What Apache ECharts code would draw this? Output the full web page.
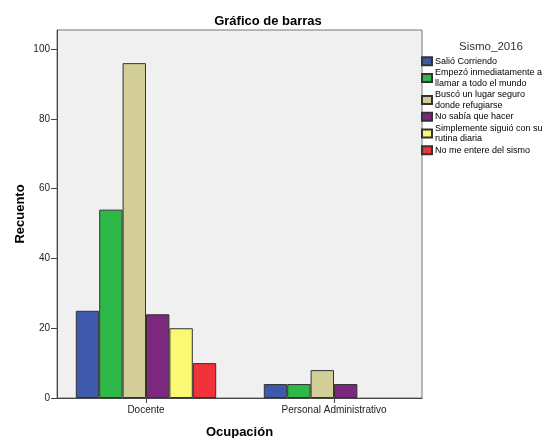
<!DOCTYPE html>
<html>
<head>
<meta charset="utf-8">
<script src="https://cdn.jsdelivr.net/npm/echarts@6/dist/echarts.min.js"></script>
<style>
html,body{margin:0;padding:0;background:#fff;}
#c{width:549px;height:438px;}
</style>
</head>
<body>
<div id="c"></div>
<script>
const categories = ['Docente', 'Personal Administrativo'];
const seriesNames = ['Salió Corriendo', 'Empezó inmediatamente a llamar a todo el mundo', 'Buscó un lugar seguro donde refugiarse', 'No sabía que hacer', 'Simplemente siguió con su rutina diaria', 'No me entere del sismo'];
const legendLabels = ['Salió Corriendo', 'Empezó inmediatamente a\nllamar a todo el mundo', 'Buscó un lugar seguro\ndonde refugiarse', 'No sabía que hacer', 'Simplemente siguió con su\nrutina diaria', 'No me entere del sismo'];
const salioCorriendo = [25, 4];
const empezoLlamar = [54, 4];
const buscoLugar = [96, 8];
const noSabia = [24, 4];
const siguioRutina = [20, null];
const noSeEntero = [10, null];
const yTicks = [0, 20, 40, 60, 80, 100];
const colors = ['#3E58AC', '#2EB848', '#D3CE97', '#7C287D', '#FBF873', '#EF3338'];

const values = [salioCorriendo, empezoLlamar, buscoLugar, noSabia, siguioRutina, noSeEntero];
const font = 'Liberation Sans, Arial, sans-serif';
const chart = echarts.init(document.getElementById('c'));
const YMAX = 105.5;

chart.setOption({
  animation: false,
  color: colors,
  title: [
    {text: 'Gráfico de barras', left: 263, top: 10, textAlign: 'center',
     textStyle: {fontFamily: font, fontSize: 13, fontWeight: 'bold', color: '#000'}},
    {text: 'Sismo_2016', left: 486, top: 36, textAlign: 'center',
     textStyle: {fontFamily: font, fontSize: 11.5, fontWeight: 'normal', color: '#333'}}
  ],
  legend: {
    orient: 'vertical', left: 421, top: 56, padding: 0,
    itemWidth: 10, itemHeight: 8, itemGap: 1,
    icon: 'rect',
    data: seriesNames,
    formatter: function (n) { return legendLabels[seriesNames.indexOf(n)]; },
    textStyle: {fontFamily: font, fontSize: 9, lineHeight: 10.5, color: '#000', padding: [0, 0, 0, -2]}
  },
  grid: [
    {left: 57, top: 30, width: 365, height: 368, show: true, backgroundColor: '#f0f0f0', borderColor: '#777', borderWidth: 1, outerBoundsMode: 'none', containLabel: false},
    {left: 52, top: 30, width: 376, height: 368, outerBoundsMode: 'none', containLabel: false}
  ],
  xAxis: [
    {gridIndex: 0, type: 'category', data: categories,
     axisLine: {show: true, lineStyle: {color: '#444', width: 1}},
     axisTick: {show: false}, axisLabel: {show: false},
     name: 'Ocupación', nameLocation: 'middle', nameGap: 28,
     nameTextStyle: {fontFamily: font, fontSize: 13, fontWeight: 'bold', color: '#000'}},
    {gridIndex: 1, type: 'category', data: categories,
     axisLine: {show: false},
     axisTick: {show: true, alignWithLabel: true, interval: 0, length: 5, lineStyle: {color: '#444'}},
     axisLabel: {interval: 0, margin: 7, fontFamily: font, fontSize: 10, color: '#222'}}
  ],
  yAxis: [
    {gridIndex: 0, type: 'value', min: 0, max: YMAX,
     axisLine: {show: true, lineStyle: {color: '#444', width: 1}},
     axisTick: {show: true, length: 6, customValues: yTicks, lineStyle: {color: '#444'}},
     axisLabel: {customValues: yTicks, margin: 7, fontFamily: font, fontSize: 10, color: '#222'},
     splitLine: {show: false},
     name: 'Recuento', nameLocation: 'middle', nameGap: 30, nameMoveOverlap: false,
     nameTextStyle: {fontFamily: font, fontSize: 13, fontWeight: 'bold', color: '#000'}},
    {gridIndex: 1, type: 'value', min: 0, max: YMAX, show: false, splitLine: {show: false}}
  ],
  series: seriesNames.map((n, i) => ({
    name: n, type: 'bar', xAxisIndex: 1, yAxisIndex: 1,
    data: values[i], barWidth: 23.4, barGap: '0%',
    itemStyle: {color: colors[i], borderColor: '#333', borderWidth: 1}
  }))
});
</script>
</body>
</html>
